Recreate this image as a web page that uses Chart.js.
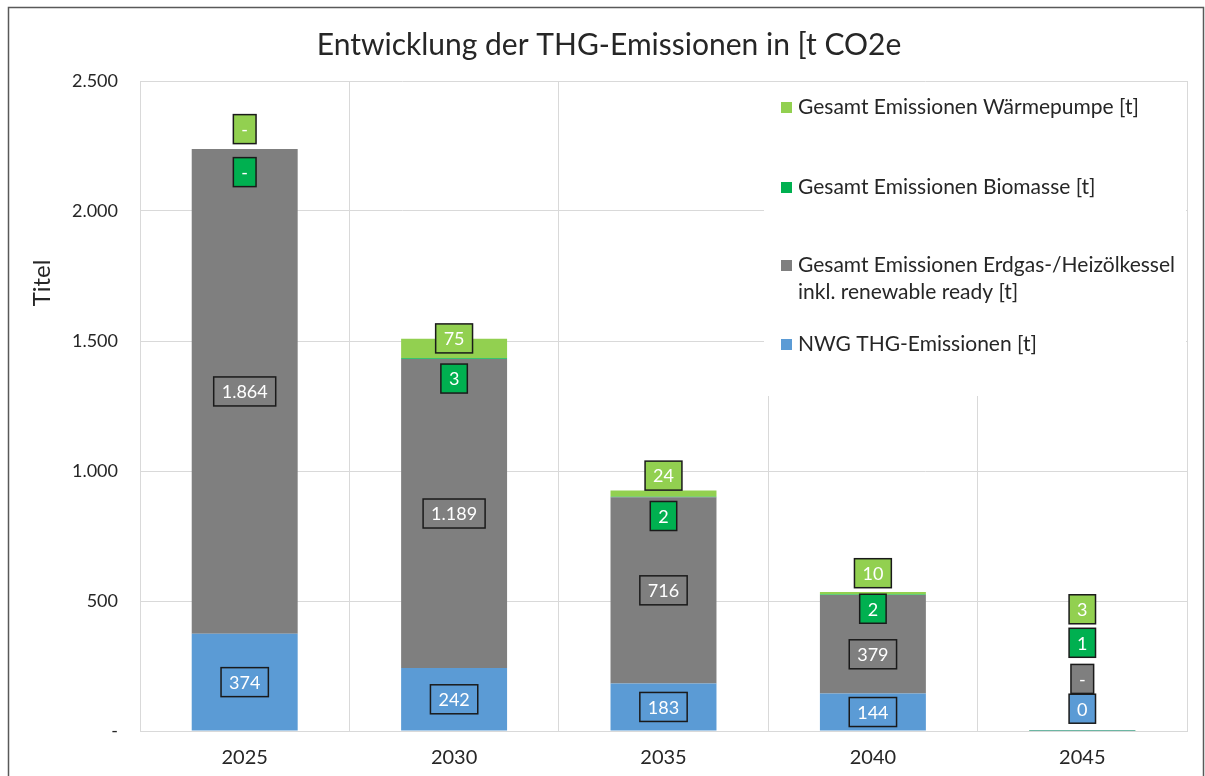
<!DOCTYPE html>
<html lang="de">
<head>
<meta charset="utf-8">
<title>Entwicklung der THG-Emissionen</title>
<script src="https://cdn.jsdelivr.net/npm/chart.js@4/dist/chart.umd.min.js"></script>
<style>
  html, body { margin: 0; padding: 0; background: #fff; }
  #wrap { position: relative; width: 1205px; height: 776px; }
</style>
</head>
<body>
<div id="wrap"><canvas id="thgChart" width="1205" height="776"></canvas></div>
<script>
// Jahre und Emissionswerte [t CO2e]
const years = ["2025", "2030", "2035", "2040", "2045"];
const nwgValues = [374, 242, 183, 144, 0.3];
const erdgasValues = [1864, 1189, 716, 379, 0];
const biomasseValues = [0, 3, 2, 2, 1];
const waermepumpeValues = [0, 75, 24, 10, 3];
const yTicks = [0, 500, 1000, 1500, 2000, 2500];

const seriesNames = [
  "NWG THG-Emissionen [t]",
  "Gesamt Emissionen Erdgas-/Heizölkessel inkl. renewable ready [t]",
  "Gesamt Emissionen Biomasse [t]",
  "Gesamt Emissionen Wärmepumpe [t]"
];

const BLUE = "#5B9BD5";
const GRAY = "#7F7F7F";
const DKGREEN = "#00B050";
const LTGREEN = "#92D050";
const FONT = "Lato, 'Open Sans', sans-serif";

// Verschiebung der Beschriftungen (px) gegenüber der Segmentmitte
const labelShift = [
  [0, 0, 0, 0, -22],
  [0, 0, 0, 10, -52],
  [23, 20, 19, 14, -88],
  [-20, -10, -18, -20, -121]
];

// Zahlenformat wie "#.##0;-#.##0;-"
function fmt(v) {
  if (v === 0) return "-";
  return Math.round(v).toLocaleString("de-DE");
}

// Datenbeschriftungen als Kästchen mit Rahmen
const boxLabels = {
  id: "boxLabels",
  afterDatasetsDraw(chart) {
    const ctx = chart.ctx;
    ctx.save();
    ctx.font = "18px " + FONT;
    ctx.textAlign = "center";
    ctx.textBaseline = "middle";
    chart.data.datasets.forEach((ds, di) => {
      const meta = chart.getDatasetMeta(di);
      meta.data.forEach((bar, i) => {
        const text = fmt(ds.data[i]);
        const x = bar.x;
        const y = (bar.y + bar.base) / 2 + labelShift[di][i];
        const w = ctx.measureText(text).width + 16;
        const h = 29;
        ctx.fillStyle = ds.backgroundColor;
        ctx.fillRect(x - w / 2, y - h / 2, w, h);
        ctx.lineWidth = 1.5;
        ctx.strokeStyle = "#1a1a1a";
        ctx.strokeRect(x - w / 2, y - h / 2, w, h);
        ctx.fillStyle = "#fff";
        ctx.fillText(text, x, y + 1);
      });
    });
    ctx.restore();
  }
};

// Legende rechts oben auf weißer Fläche
const sideLegend = {
  id: "sideLegend",
  beforeDatasetsDraw(chart) {
    const ctx = chart.ctx;
    const area = chart.chartArea;
    ctx.save();
    ctx.fillStyle = "#fff";
    ctx.fillRect(764, area.top + 1, area.right - 764 - 1, 395 - area.top);
    ctx.restore();
  },
  afterDraw(chart) {
    const ctx = chart.ctx;
    const items = [
      { color: LTGREEN, lines: ["Gesamt Emissionen Wärmepumpe [t]"], y: 107 },
      { color: DKGREEN, lines: ["Gesamt Emissionen Biomasse [t]"], y: 187 },
      { color: GRAY, lines: ["Gesamt Emissionen Erdgas-/Heizölkessel", "inkl. renewable ready [t]"], y: 265 },
      { color: BLUE, lines: ["NWG THG-Emissionen [t]"], y: 344 }
    ];
    ctx.save();
    ctx.font = "21px " + FONT;
    ctx.textBaseline = "middle";
    ctx.textAlign = "left";
    items.forEach(it => {
      ctx.fillStyle = it.color;
      ctx.fillRect(781, it.y - 5, 11, 11);
      ctx.fillStyle = "#262626";
      it.lines.forEach((ln, k) => ctx.fillText(ln, 798, it.y + k * 27));
    });

    // Diagrammtitel
    ctx.font = "30px " + FONT;
    ctx.textAlign = "center";
    ctx.fillStyle = "#262626";
    ctx.fillText("Entwicklung der THG-Emissionen in [t CO2e", 609, 45);

    // Achsentitel
    ctx.translate(42, 283);
    ctx.rotate(-Math.PI / 2);
    ctx.font = "24px " + FONT;
    ctx.fillText("Titel", 0, 0);
    ctx.restore();

    // Rahmen des Diagrammbereichs
    ctx.save();
    ctx.strokeStyle = "#595959";
    ctx.lineWidth = 1.5;
    ctx.beginPath();
    ctx.moveTo(8.5, 776);
    ctx.lineTo(8.5, 7.5);
    ctx.lineTo(1203.5, 7.5);
    ctx.lineTo(1203.5, 776);
    ctx.stroke();
    ctx.restore();
  }
};

const ctx = document.getElementById("thgChart").getContext("2d");

new Chart(ctx, {
  type: "bar",
  data: {
    labels: years,
    datasets: [
      { label: seriesNames[0], data: nwgValues, backgroundColor: BLUE },
      { label: seriesNames[1], data: erdgasValues, backgroundColor: GRAY },
      { label: seriesNames[2], data: biomasseValues, backgroundColor: DKGREEN },
      { label: seriesNames[3], data: waermepumpeValues, backgroundColor: LTGREEN }
    ]
  },
  options: {
    responsive: false,
    animation: false,
    layout: { padding: { top: 81, right: 18, bottom: 0, left: 0 } },
    datasets: {
      bar: { categoryPercentage: 1, barPercentage: 0.506, borderWidth: 0 }
    },
    plugins: {
      legend: { display: false },
      title: { display: false },
      tooltip: { enabled: false }
    },
    scales: {
      x: {
        stacked: true,
        grid: { color: "#D9D9D9", offset: true, drawTicks: false },
        border: { color: "#D9D9D9" },
        ticks: { color: "#262626", font: { family: FONT, size: 20 }, padding: 15 },
        afterFit(scale) { scale.height = 45; }
      },
      y: {
        stacked: true,
        min: 0,
        max: 2500,
        afterBuildTicks(scale) { scale.ticks = yTicks.map(v => ({ value: v })); },
        grid: { color: "#D9D9D9", drawTicks: false },
        border: { color: "#D9D9D9" },
        ticks: {
          color: "#262626",
          font: { family: FONT, size: 18 },
          padding: 22,
          callback: v => fmt(v)
        },
        afterFit(scale) { scale.width = 140; }
      }
    }
  },
  plugins: [sideLegend, boxLabels]
});
</script>
</body>
</html>
